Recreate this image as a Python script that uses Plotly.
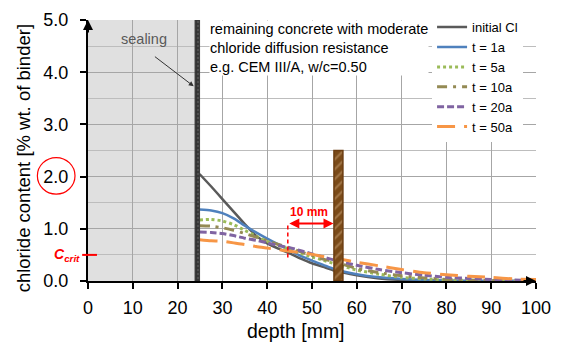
import plotly.graph_objects as go

# ---------------- data ----------------
depth = [24.9, 27.5, 30, 32.5, 35, 37.5, 40, 42.5, 45, 47.5, 50, 52.5, 55,
         60, 65, 70, 75, 80, 85, 90, 95, 100]
initial_cl = [2.05, 1.81, 1.57, 1.33, 1.09, 0.87, 0.72, 0.62, 0.53, 0.43, 0.34, 0.27, 0.20,
              0.11, 0.05, 0.02, 0.01, 0.0, 0.0, 0.0, 0.0, 0.0]
t_1a = [1.37, 1.35, 1.30, 1.20, 1.06, 0.93, 0.81, 0.70, 0.59, 0.48, 0.39, 0.31, 0.23,
        0.13, 0.07, 0.04, 0.02, 0.01, 0.0, 0.0, 0.0, 0.0]
t_5a = [1.17, 1.18, 1.15, 1.08, 0.97, 0.86, 0.76, 0.68, 0.61, 0.53, 0.46, 0.40, 0.33,
        0.21, 0.13, 0.07, 0.04, 0.02, 0.01, 0.0, 0.0, 0.0]
t_10a = [1.06, 1.05, 1.02, 0.97, 0.91, 0.84, 0.77, 0.70, 0.63, 0.56, 0.49, 0.42, 0.37,
         0.24, 0.16, 0.10, 0.06, 0.03, 0.02, 0.01, 0.0, 0.0]
t_20a = [0.94, 0.93, 0.91, 0.87, 0.82, 0.78, 0.73, 0.68, 0.64, 0.58, 0.52, 0.46, 0.40,
         0.30, 0.22, 0.16, 0.11, 0.07, 0.05, 0.03, 0.02, 0.01]
t_50a = [0.79, 0.77, 0.76, 0.73, 0.70, 0.66, 0.63, 0.60, 0.57, 0.54, 0.51, 0.47, 0.44,
         0.36, 0.29, 0.22, 0.16, 0.12, 0.09, 0.07, 0.04, 0.03]

series_names = ["initial Cl", "t = 1a", "t = 5a", "t = 10a", "t = 20a", "t = 50a"]
series_values = [initial_cl, t_1a, t_5a, t_10a, t_20a, t_50a]

sealing_zone = [0, 23.9]      # mm
sealing_layer = [23.9, 24.9]  # mm
rebar_x = [54.9, 56.9]        # mm
rebar_top = 2.5
c_crit = 0.5
cover_start = 44.6            # start of 10 mm distance
cover_arrow_y = 1.1

x_ticks = list(range(0, 101, 10))
y_ticks = [0, 1, 2, 3, 4, 5]
y_tick_labels = ["0.0", "1.0", "2.0", "3.0", "4.0", "5.0"]

# ---------------- styles ----------------
styles = [
    dict(color="#5A5A5A", width=2.5, dash="solid"),
    dict(color="#4F81BD", width=2.5, dash="solid"),
    dict(color="#9BBB59", width=3, dash="dot"),
    dict(color="#948A54", width=3, dash="10px,6px,3px,6px"),
    dict(color="#8064A2", width=3, dash="7px,3px"),
    dict(color="#F79646", width=3, dash="18px,9px"),
]

FONT = "Arial, Liberation Sans, sans-serif"

fig = go.Figure()

for name, vals, st in zip(series_names, series_values, styles):
    fig.add_trace(go.Scatter(x=depth, y=vals, name=name, mode="lines",
                             line=dict(color=st["color"], width=st["width"],
                                       dash=st["dash"], shape="spline", smoothing=0.6)))

# sealing layer (dark bar)
fig.add_trace(go.Scatter(
    x=[sealing_layer[0], sealing_layer[1], sealing_layer[1], sealing_layer[0], sealing_layer[0]],
    y=[0, 0, 5, 5, 0], mode="lines", fill="toself", showlegend=False, hoverinfo="skip",
    line=dict(color="#3A3A3A", width=1),
    fillcolor="#3A3A3A",
    fillpattern=dict(shape=".", fgcolor="#6A6A6A", bgcolor="#333333", size=4, solidity=0.3)))

# rebar
fig.add_trace(go.Scatter(
    x=[rebar_x[0], rebar_x[1], rebar_x[1], rebar_x[0], rebar_x[0]],
    y=[0, 0, rebar_top, rebar_top, 0], mode="lines", fill="toself", showlegend=False,
    hoverinfo="skip", line=dict(color="#6B3C10", width=1.5),
    fillpattern=dict(shape="/", fgcolor="#C9A276", bgcolor="#7A4A18", size=7, solidity=0.3)))

shapes = [
    # grey sealed zone (below gridlines)
    dict(type="rect", xref="x", yref="y", x0=sealing_zone[0], x1=sealing_zone[1], y0=0, y1=5,
         fillcolor="#E0E0E0", line=dict(width=0), layer="below"),
    # dashed red vertical at critical point
    dict(type="line", xref="x", yref="y", x0=cover_start, x1=cover_start, y0=0.45, y1=cover_arrow_y,
         line=dict(color="red", width=1.5, dash="4px,3px")),
    # c_crit marker
    dict(type="line", xref="paper", yref="paper", x0=-0.013, x1=0.02, y0=c_crit / 5.0, y1=c_crit / 5.0,
         line=dict(color="red", width=2)),
    # red circle around 2.0
    dict(type="circle", xref="paper", yref="paper", x0=-0.113, x1=-0.029, y0=0.333, y1=0.473,
         line=dict(color="red", width=1.2)),
]

annotations = [
    # axis arrowheads
    dict(x=0, y=5, xref="x", yref="y", ax=0, ay=14, text="", showarrow=True,
         arrowhead=2, arrowsize=1, arrowwidth=2, arrowcolor="black"),
    dict(x=100, y=0, xref="x", yref="y", ax=-14, ay=0, text="", showarrow=True,
         arrowhead=2, arrowsize=1, arrowwidth=2, arrowcolor="black"),
    # sealing label + arrow
    dict(x=7.0, y=4.63, xref="x", yref="y", text="sealing", showarrow=False, xanchor="left",
         font=dict(family=FONT, size=14.5, color="#595959")),
    dict(x=23.6, y=3.73, xref="x", yref="y", ax=14.6, ay=4.32, axref="x", ayref="y", text="",
         showarrow=True, arrowhead=2, arrowsize=1, arrowwidth=1, arrowcolor="#333333"),
    # description text
    dict(x=27.0, y=5.0, xref="x", yref="y", xanchor="left", yanchor="top", align="left",
         text="remaining concrete with moderate<br>chloride diffusion resistance<br>e.g. CEM III/A, w/c=0.50",
         showarrow=False, bgcolor="white", borderpad=0,
         font=dict(family=FONT, size=14.5, color="black")),
    # 10 mm arrow
    dict(x=rebar_x[0] - 0.1, y=cover_arrow_y, xref="x", yref="y", ax=cover_start, ay=cover_arrow_y,
         axref="x", ayref="y", text="", showarrow=True, arrowhead=2, arrowside="end+start",
         arrowsize=1, arrowwidth=2, arrowcolor="red"),
    dict(x=49.3, y=1.33, xref="x", yref="y", text="<b>10 mm</b>", showarrow=False,
         font=dict(family=FONT, size=12, color="red")),
    # c_crit label
    dict(x=-0.047, y=c_crit / 5.0, xref="paper", yref="paper", xanchor="center", yanchor="middle",
         text="<b><i>C</i></b><sub><b><i>crit</i></b></sub>", showarrow=False,
         font=dict(family=FONT, size=14, color="red")),
    # axis titles
    dict(x=0.465, y=-0.193, xref="paper", yref="paper", text="depth [mm]", showarrow=False,
         yanchor="middle", font=dict(family=FONT, size=19.5, color="black")),
    dict(x=-0.145, y=0.47, xref="paper", yref="paper", text="chloride content [% wt. of binder]",
         showarrow=False, textangle=-90, xanchor="center", yanchor="middle",
         font=dict(family=FONT, size=18.5, color="black")),
]

fig.update_layout(
    width=561, height=349,
    margin=dict(l=88, r=23, t=10, b=68),
    plot_bgcolor="white", paper_bgcolor="white",
    font=dict(family=FONT, size=18, color="black"),
    shapes=shapes, annotations=annotations,
    legend=dict(x=0.768, y=1.03, xanchor="left", yanchor="top", bgcolor="white",
                font=dict(family=FONT, size=13, color="black"), tracegroupgap=0,
                itemwidth=30, borderwidth=0),
    showlegend=True,
)

fig.update_xaxes(range=[0, 100], tickvals=x_ticks, showgrid=True, gridcolor="#A6A6A6", gridwidth=1,
                 showline=True, linecolor="black", linewidth=2, ticks="outside", ticklen=6,
                 tickwidth=2, tickcolor="black", zeroline=False, ticklabelstandoff=3,
                 tickfont=dict(family=FONT, size=18))
fig.update_yaxes(range=[0, 5], tickvals=y_ticks, ticktext=y_tick_labels, showgrid=True,
                 gridcolor="#A6A6A6", gridwidth=1,
                 minor=dict(dtick=0.5, showgrid=True, gridcolor="#BDBDBD", gridwidth=1),
                 showline=True, linecolor="black", linewidth=2, ticks="outside", ticklen=6,
                 tickwidth=2, tickcolor="black", zeroline=False, ticklabelstandoff=8,
                 tickfont=dict(family=FONT, size=18))

fig.write_html("out.html")
